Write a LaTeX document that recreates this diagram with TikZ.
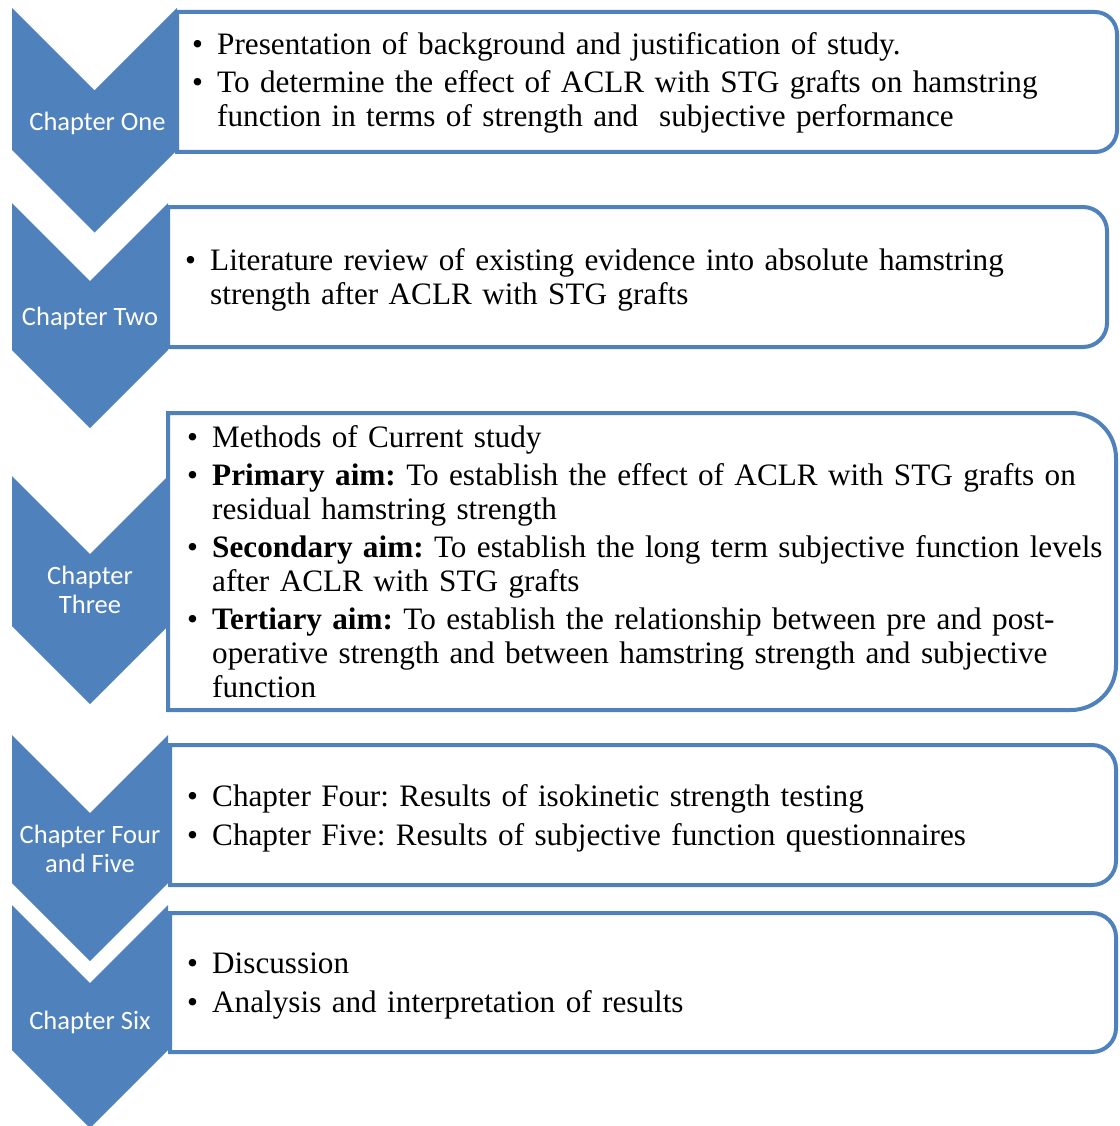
\documentclass[tikz,border=0pt]{standalone}
\usepackage{fontspec}
\setmainfont{Liberation Serif}
\newfontfamily\chapfont{Carlito}
\definecolor{chevblue}{HTML}{4F81BD}
\frenchspacing
\hyphenpenalty=10000
\newcommand{\bul}[1]{\noindent\hangindent=22pt\hangafter=1\makebox[22pt][l]{\hspace{-3pt}\textbullet}#1\par}

\begin{document}
\begin{tikzpicture}[x=1pt, y=-1pt,
	chevron/.style	= {fill = chevblue},
	panel/.style	= {draw = chevblue, line width = 4pt, fill = white},
	chap/.style	= {text = white, inner sep = 0pt, align = center, font = \chapfont\fontsize{26.5}{29}\selectfont},
	items/.style	= {anchor = base west, inner sep = 0pt, text width = 960pt, align = left, font = \fontsize{31.2}{34}\selectfont}]
	\useasboundingbox (0,0) rectangle (1119,1126);

	% panels
	\draw[panel] (177,152) -- (177,12) -- (1095,12) arc[start angle=90, end angle=0, radius=22pt] -- (1117,130) arc[start angle=0, end angle=-90, radius=22pt] -- cycle;
	\draw[panel] (168,347) -- (168,207) -- (1083,207) arc[start angle=90, end angle=0, radius=24pt] -- (1107,323) arc[start angle=0, end angle=-90, radius=24pt] -- cycle;
	\draw[panel] (168,710) -- (168,413) -- (1071,413) arc[start angle=90, end angle=0, radius=45pt] -- (1116,665) arc[start angle=0, end angle=-90, radius=45pt] -- cycle;
	\draw[panel] (170,885) -- (170,745) -- (1092,745) arc[start angle=90, end angle=0, radius=24pt] -- (1116,861) arc[start angle=0, end angle=-90, radius=24pt] -- cycle;
	\draw[panel] (170,1052) -- (170,913) -- (1092,913) arc[start angle=90, end angle=0, radius=24pt] -- (1116,1028) arc[start angle=0, end angle=-90, radius=24pt] -- cycle;

	% chevrons
	\fill[chevron] (12,8) -- (94.5,90.5) -- (177,8) -- (177,150) -- (94.5,232.5) -- (12,150) -- cycle;
	\fill[chevron] (12,203) -- (90,281) -- (168,203) -- (168,350) -- (90,428) -- (12,350) -- cycle;
	\fill[chevron] (12,476) -- (90,554) -- (168,476) -- (168,626) -- (90,704) -- (12,626) -- cycle;
	\fill[chevron] (12,735) -- (90,813) -- (168,735) -- (168,883) -- (90,961) -- (12,883) -- cycle;
	\fill[chevron] (12,905) -- (90,983) -- (168,905) -- (168,1050) -- (90,1128) -- (12,1050) -- cycle;

	\node (C1) at (97.5,123)	[chap]	{Chapter One};
	\node (C2) at (90,318)	[chap]	{Chapter Two};
	\node (C3) at (90,590)	[chap]	{Chapter\\Three};
	\node (C4) at (90,849)	[chap]	{Chapter Four\\and Five};
	\node (C6) at (90,1022)	[chap]	{Chapter Six};

	\node (T1) at (195,55)	[items]	{\bul{Presentation of background and justification of study.}\vspace{4pt}
		\bul{To determine the effect of ACLR with STG grafts on hamstring\newline function in terms of strength and\ \ subjective performance}};
	\node (T2) at (188,270)	[items]	{\bul{Literature review of existing evidence into absolute hamstring\newline strength after ACLR with STG grafts}};
	\node (T3) at (190,447)	[items]	{\bul{Methods of Current study}\vspace{4pt}
		\bul{\textbf{Primary aim:} To establish the effect of ACLR with STG grafts on\newline residual hamstring strength}\vspace{4pt}
		\bul{\textbf{Secondary aim:} To establish the long term subjective function levels\newline after ACLR with STG grafts}\vspace{4pt}
		\bul{\textbf{Tertiary aim:} To establish the relationship between pre and post-\newline operative strength and between hamstring strength and subjective\newline function}};
	\node (T4) at (190,806)	[items]	{\bul{Chapter Four: Results of isokinetic strength testing}\vspace{5pt}
		\bul{Chapter Five: Results of subjective function questionnaires}};
	\node (T5) at (190,973)	[items]	{\bul{Discussion}\vspace{5pt}
		\bul{Analysis and interpretation of results}};
\end{tikzpicture}
\end{document}
